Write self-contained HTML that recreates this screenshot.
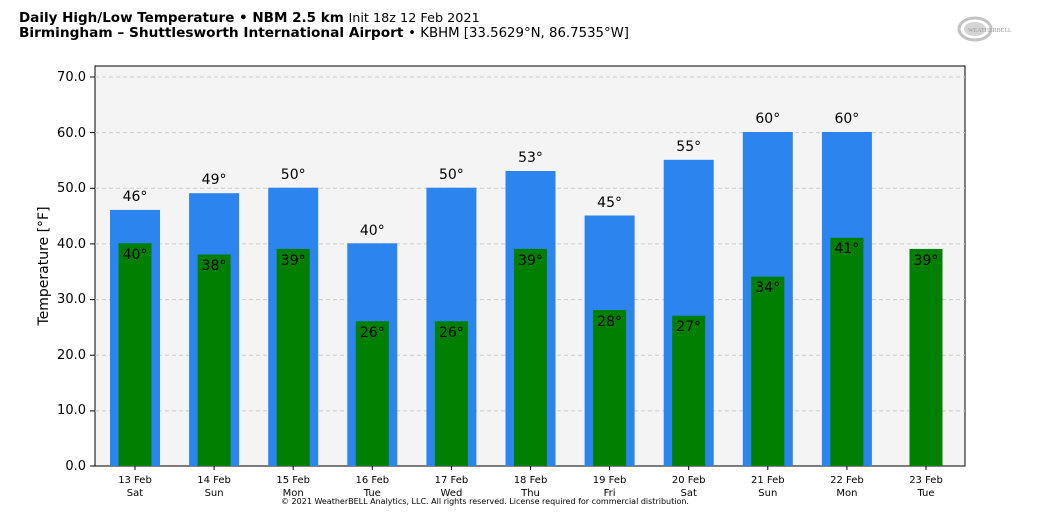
<!DOCTYPE html>
<html><head><meta charset="utf-8"><style>
body{margin:0;background:#fff;}
svg{display:block;font-family:"DejaVu Sans","Liberation Sans",sans-serif;}
</style></head><body>
<svg width="1040" height="516" xmlns="http://www.w3.org/2000/svg">
<text x="19" y="22" font-size="13.5" font-weight="bold">Daily High/Low Temperature • NBM 2.5 km <tspan font-weight="normal" font-size="12.8">Init 18z 12 Feb 2021</tspan></text>
<text x="19" y="37" font-size="13.7" font-weight="bold">Birmingham – Shuttlesworth International Airport <tspan font-weight="normal" font-size="13.3">• KBHM [33.5629°N, 86.7535°W]</tspan></text>
<g opacity="0.5">
<ellipse cx="975" cy="29" rx="16" ry="11" fill="none" stroke="#888" stroke-width="3"/>
<ellipse cx="975" cy="29" rx="11" ry="7" fill="#aaa"/>
<text x="968" y="32" font-size="6" font-family="Liberation Serif" fill="#333">WEATHERBELL</text>
</g>
<rect x="95" y="66" width="870" height="400" fill="#f4f4f4" stroke="#000"/>
<g stroke="#ccc" stroke-dasharray="4,3" stroke-width="1">
<line x1="95" x2="965" y1="77" y2="77"/><line x1="95" x2="965" y1="132.6" y2="132.6"/>
<line x1="95" x2="965" y1="188.3" y2="188.3"/><line x1="95" x2="965" y1="243.9" y2="243.9"/>
<line x1="95" x2="965" y1="299.6" y2="299.6"/><line x1="95" x2="965" y1="355.2" y2="355.2"/>
<line x1="95" x2="965" y1="410.9" y2="410.9"/>
</g>
<g fill="#2c84ee">
<rect x="110" y="209.9" width="50" height="256.1"/>
<rect x="189.1" y="193.2" width="50" height="272.8"/>
<rect x="268.2" y="187.7" width="50" height="278.3"/>
<rect x="347.3" y="243.3" width="50" height="222.7"/>
<rect x="426.4" y="187.7" width="50" height="278.3"/>
<rect x="505.5" y="171" width="50" height="295"/>
<rect x="584.6" y="215.5" width="50" height="250.5"/>
<rect x="663.7" y="159.8" width="50" height="306.2"/>
<rect x="742.8" y="132" width="50" height="334"/>
<rect x="821.9" y="132" width="50" height="334"/>
</g>
<g fill="#007f00">
<rect x="118.5" y="243.3" width="33" height="222.7"/>
<rect x="197.6" y="254.5" width="33" height="211.5"/>
<rect x="276.7" y="248.9" width="33" height="217.1"/>
<rect x="355.8" y="321.3" width="33" height="144.7"/>
<rect x="434.9" y="321.3" width="33" height="144.7"/>
<rect x="514" y="248.9" width="33" height="217.1"/>
<rect x="593.1" y="310.1" width="33" height="155.9"/>
<rect x="672.2" y="315.7" width="33" height="150.3"/>
<rect x="751.3" y="276.7" width="33" height="189.3"/>
<rect x="830.4" y="237.8" width="33" height="228.2"/>
<rect x="909.5" y="248.9" width="33" height="217.1"/>
</g>
<g font-size="14" text-anchor="middle">
<text x="135" y="201">46°</text><text x="214.1" y="184">49°</text><text x="293.2" y="179">50°</text>
<text x="372.3" y="235">40°</text><text x="451.4" y="179">50°</text><text x="530.5" y="162">53°</text>
<text x="609.6" y="207">45°</text><text x="688.7" y="151">55°</text><text x="767.8" y="123">60°</text>
<text x="846.9" y="123">60°</text>
<text x="135" y="259">40°</text><text x="214.1" y="270">38°</text><text x="293.2" y="265">39°</text>
<text x="372.3" y="337">26°</text><text x="451.4" y="337">26°</text><text x="530.5" y="265">39°</text>
<text x="609.6" y="326">28°</text><text x="688.7" y="331">27°</text><text x="767.8" y="292">34°</text>
<text x="846.9" y="253">41°</text><text x="926" y="265">39°</text>
</g>
<g stroke="#000">
<line x1="135" x2="135" y1="466" y2="470"/><line x1="214.1" x2="214.1" y1="466" y2="470"/>
<line x1="293.2" x2="293.2" y1="466" y2="470"/><line x1="372.3" x2="372.3" y1="466" y2="470"/>
<line x1="451.4" x2="451.4" y1="466" y2="470"/><line x1="530.5" x2="530.5" y1="466" y2="470"/>
<line x1="609.6" x2="609.6" y1="466" y2="470"/><line x1="688.7" x2="688.7" y1="466" y2="470"/>
<line x1="767.8" x2="767.8" y1="466" y2="470"/><line x1="846.9" x2="846.9" y1="466" y2="470"/>
<line x1="926" x2="926" y1="466" y2="470"/>
</g>
<g font-size="10" text-anchor="middle">
<text x="135" y="483">13 Feb</text><text x="135" y="496">Sat</text>
<text x="214.1" y="483">14 Feb</text><text x="214.1" y="496">Sun</text>
<text x="293.2" y="483">15 Feb</text><text x="293.2" y="496">Mon</text>
<text x="372.3" y="483">16 Feb</text><text x="372.3" y="496">Tue</text>
<text x="451.4" y="483">17 Feb</text><text x="451.4" y="496">Wed</text>
<text x="530.5" y="483">18 Feb</text><text x="530.5" y="496">Thu</text>
<text x="609.6" y="483">19 Feb</text><text x="609.6" y="496">Fri</text>
<text x="688.7" y="483">20 Feb</text><text x="688.7" y="496">Sat</text>
<text x="767.8" y="483">21 Feb</text><text x="767.8" y="496">Sun</text>
<text x="846.9" y="483">22 Feb</text><text x="846.9" y="496">Mon</text>
<text x="926" y="483">23 Feb</text><text x="926" y="496">Tue</text>
</g>
<g font-size="13" text-anchor="end">
<text x="86" y="470">0.0</text><text x="86" y="414">10.0</text><text x="86" y="359">20.0</text>
<text x="86" y="303">30.0</text><text x="86" y="248">40.0</text><text x="86" y="192">50.0</text>
<text x="86" y="137">60.0</text><text x="86" y="81">70.0</text>
</g>
<g stroke="#000">
<line x1="90" x2="95" y1="466" y2="466"/><line x1="90" x2="95" y1="410.9" y2="410.9"/>
<line x1="90" x2="95" y1="355.2" y2="355.2"/><line x1="90" x2="95" y1="299.6" y2="299.6"/>
<line x1="90" x2="95" y1="243.9" y2="243.9"/><line x1="90" x2="95" y1="188.3" y2="188.3"/>
<line x1="90" x2="95" y1="132.6" y2="132.6"/><line x1="90" x2="95" y1="77" y2="77"/>
</g>
<text transform="translate(48,266) rotate(-90)" font-size="14" text-anchor="middle">Temperature [°F]</text>
<text x="485" y="504" font-size="8" text-anchor="middle">© 2021 WeatherBELL Analytics, LLC. All rights reserved. License required for commercial distribution.</text>
</svg>
</body></html>
